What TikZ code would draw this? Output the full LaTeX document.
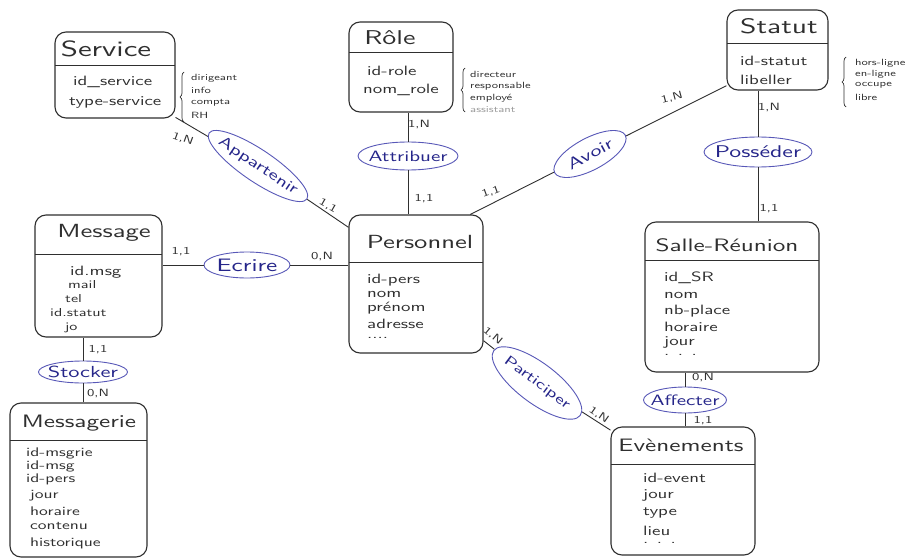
\documentclass[tikz,border=0pt]{standalone}
\usepackage{fontspec}
\setsansfont{lmsans10-regular.otf}[FakeStretch=1.4]
\usetikzlibrary{shapes.geometric,decorations.pathreplacing}
\definecolor{ink}{HTML}{2F2F2F}
\definecolor{relline}{HTML}{5858B8}
\definecolor{reltext}{HTML}{26268A}
\definecolor{faint}{HTML}{9A9A9A}
\newcommand{\fs}[1]{\sffamily\fontsize{#1}{#1}\selectfont}
\begin{document}
\begin{tikzpicture}[x=1pt,y=-1pt,
 entity/.style={draw=ink, line width=1.1pt, rounded corners=11pt, inner sep=0pt},
 hdr/.style={draw=ink, line width=1pt},
 ttl/.style={inner sep=0pt, text=ink, font=\fs{19}},
 attr/.style={anchor=west, inner sep=0pt, text=ink, font=\fs{13.5}},
 sattr/.style={attr, font=\fs{11.5}},
 mattr/.style={attr, font=\fs{12.5}},
 relshape/.style={ellipse, draw=relline, line width=0.9pt, inner sep=0pt},
 reltxt/.style={inner sep=0pt, text=reltext, font=\fs{15}},
 conn/.style={draw=ink, line width=0.9pt},
 card/.style={inner sep=0pt, text=ink, font=\fs{10.5}},
 note/.style={anchor=west, inner sep=0pt, text=ink, font=\fs{9}},
 brc/.style={draw=ink, line width=0.7pt, decorate, decoration={brace, amplitude=4pt}}]
\useasboundingbox (0,0) rectangle (912,559);
\fill[white] (0,0) rectangle (912,559);

% ---------- entities ----------
\node[entity, minimum width=120pt, minimum height=86pt] (service) at (115,75) {};
\draw[hdr] (55,66) -- (175,66);
\node[ttl, font=\fs{22}] (serviceT) at (106,49) {Service};
\node[attr] (svcA1) at (73,82) {id\_service};
\node[attr] (svcA2) at (69,102) {type-service};

\node[entity, minimum width=104pt, minimum height=90pt] (role) at (401,67) {};
\draw[hdr] (349,53) -- (453,53);
\node[ttl, font=\fs{20}] (roleT) at (390,38) {Rôle};
\node[attr] (roleA1) at (367,71) {id-role};
\node[attr] (roleA2) at (363,90) {nom\_role};

\node[entity, minimum width=101pt, minimum height=80pt] (statut) at (777.5,50) {};
\draw[hdr] (727,44) -- (828,44);
\node[ttl, font=\fs{21}] (statutT) at (779,26) {Statut};
\node[attr] (statA1) at (740,61) {id-statut};
\node[attr] (statA2) at (740,80) {libeller};

\node[entity, minimum width=127pt, minimum height=122pt] (message) at (98.5,276) {};
\draw[hdr] (35,254) -- (162,254);
\node[ttl] (messageT) at (104,233) {Message};
\node[attr] (msgA1) at (70,272) {id.msg};
\node[sattr] (msgA2) at (68,285) {mail};
\node[sattr] (msgA3) at (65,299) {tel};
\node[sattr] (msgA4) at (50,313) {id.statut};
\node[sattr] (msgA5) at (65,328) {jo};

\node[entity, minimum width=134pt, minimum height=138pt] (personnel) at (416,284) {};
\draw[hdr] (349,262) -- (483,262);
\node[ttl] (personnelT) at (420,242) {Personnel};
\node[attr] (persA1) at (367,280) {id-pers};
\node[attr] (persA2) at (367,294) {nom};
\node[attr] (persA3) at (367,308) {prénom};
\node[attr] (persA4) at (367,324) {adresse};
\node[attr] (persA5) at (367,338) {....};

\node[entity, minimum width=174pt, minimum height=150pt] (salle) at (732,297) {};
\draw[hdr] (645,260) -- (819,260);
\node[ttl, font=\fs{18}] (salleT) at (727,245) {Salle-Réunion};
\node[attr] (salA1) at (664,278) {id\_SR};
\node[attr] (salA2) at (664,295) {nom};
\node[attr] (salA3) at (664,311) {nb-place};
\node[attr] (salA4) at (664,327) {horaire};
\node[attr] (salA5) at (664,342) {jour};
\node[attr] (salA6) at (664,355) {. . .};

\node[entity, minimum width=137pt, minimum height=154pt] (messagerie) at (78.5,480) {};
\draw[hdr] (10,440) -- (147,440);
\node[ttl, font=\fs{18}] (messagerieT) at (79,423) {Messagerie};
\node[mattr] (mgA1) at (26,453) {id-msgrie};
\node[mattr] (mgA2) at (26,466) {id-msg};
\node[mattr] (mgA3) at (26,479) {id-pers};
\node[mattr] (mgA4) at (30,496) {jour};
\node[mattr] (mgA5) at (30,511) {horaire};
\node[mattr] (mgA6) at (30,526) {contenu};
\node[mattr] (mgA7) at (30,543) {historique};

\node[entity, minimum width=144pt, minimum height=128pt] (evenements) at (683,491) {};
\draw[hdr] (611,464) -- (755,464);
\node[ttl, font=\fs{18}] (evenementsT) at (681,445) {Evènements};
\node[attr] (evA1) at (643,478) {id-event};
\node[attr] (evA2) at (643,495) {jour};
\node[attr] (evA3) at (643,513) {type};
\node[attr] (evA4) at (643,531) {lieu};
\node[attr] (evA5) at (643,543) {. . .};

% ---------- notes ----------
\draw[brc] (184,122) -- (184,72);
\node[note] (n1) at (191,78) {dirigeant};
\node[note] (n2) at (191,90) {info};
\node[note] (n3) at (191,103) {compta};
\node[note] (n4) at (191,115) {RH};

\draw[brc] (465,112) -- (465,68);
\node[note] (n5) at (470,74) {directeur};
\node[note] (n6) at (470,86) {responsable};
\node[note] (n7) at (470,98) {employé};
\node[note, text=faint] (n8) at (470,110) {assistant};

\draw[brc] (846,107) -- (846,57);
\node[note] (n9) at (855,63) {hors-ligne};
\node[note] (n10) at (855,74) {en-ligne};
\node[note] (n11) at (855,85) {occupe};
\node[note] (n12) at (855,97) {libre};

% ---------- relations ----------
\node[relshape, rotate=-34, minimum width=118pt, minimum height=32pt] (appartenir) at (258,166) {};
\node[reltxt, rotate=-34] (appartenirT) at (appartenir) {Appartenir};
\node[relshape, minimum width=100pt, minimum height=28pt] (attribuer) at (408,156) {};
\node[reltxt] (attribuerT) at (attribuer) {Attribuer};
\node[relshape, rotate=28, minimum width=80pt, minimum height=32pt] (avoir) at (590,154) {};
\node[reltxt, rotate=28, font=\fs{16}] (avoirT) at (avoir) {Avoir};
\node[relshape, minimum width=108pt, minimum height=30pt] (posseder) at (758,152) {};
\node[reltxt, font=\fs{17}] (possederT) at (posseder) {Posséder};
\node[relshape, minimum width=86pt, minimum height=26pt] (ecrire) at (247,265) {};
\node[reltxt, font=\fs{18}] (ecrireT) at (ecrire) {Ecrire};
\node[relshape, minimum width=89pt, minimum height=22pt] (stocker) at (83,372) {};
\node[reltxt, font=\fs{16}] (stockerT) at (stocker) {Stocker};
\node[relshape, rotate=-37, minimum width=108pt, minimum height=40pt] (participer) at (537,383) {};
\node[reltxt, rotate=-37, font=\fs{14}] (participerT) at (participer) {Participer};
\node[relshape, minimum width=83pt, minimum height=26pt] (affecter) at (685,400) {};
\node[reltxt] (affecterT) at (affecter) {Affecter};

% ---------- connectors ----------
\draw[conn] (service.-35) -- (appartenir);
\draw[conn] (appartenir) -- (personnel.140);
\draw[conn] (attribuer) -- (attribuer |- role.south);
\draw[conn] (attribuer) -- (attribuer |- personnel.north);
\draw[conn] (personnel.52) -- (avoir);
\draw[conn] (avoir) -- (statut.215);
\draw[conn] (posseder) -- (posseder |- statut.south);
\draw[conn] (posseder) -- (posseder |- salle.north);
\draw[conn] (ecrire) -- (ecrire -| message.east);
\draw[conn] (ecrire) -- (ecrire -| personnel.west);
\draw[conn] (stocker) -- (stocker |- message.south);
\draw[conn] (stocker) -- (stocker |- messagerie.north);
\draw[conn] (personnel.-40) -- (participer);
\draw[conn] (participer) -- (evenements.140);
\draw[conn] (affecter) -- (affecter |- salle.south);
\draw[conn] (affecter) -- (affecter |- evenements.north);

% ---------- cardinalities ----------
\node[card, rotate=-20] (c1) at (183,139) {1,N};
\node[card, rotate=-30] (c2) at (328,206) {1,1};
\node[card] (c3) at (419,125) {1,N};
\node[card] (c4) at (424,199) {1,1};
\node[card, rotate=20] (c5) at (491,192) {1,1};
\node[card, rotate=15] (c6) at (672,98) {1,N};
\node[card] (c7) at (769,108) {1,N};
\node[card] (c8) at (769,209) {1,1};
\node[card] (c9) at (181,252) {1,1};
\node[card] (c10) at (322,257) {0,N};
\node[card] (c11) at (98,350) {1,1};
\node[card] (c12) at (98,394) {0,N};
\node[card, rotate=-40] (c13) at (493,336) {1,N};
\node[card, rotate=-35] (c14) at (599,415) {1,N};
\node[card] (c15) at (703,378) {0,N};
\node[card] (c16) at (703,421) {1,1};
\end{tikzpicture}
\end{document}
